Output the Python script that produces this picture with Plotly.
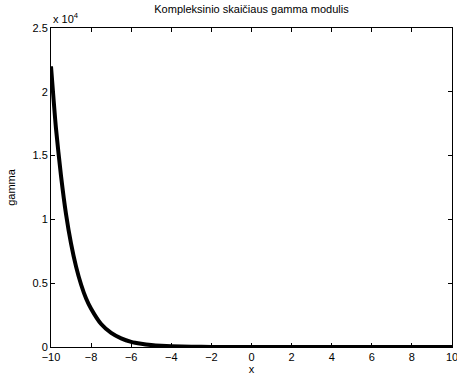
import plotly.graph_objects as go

# modulus values sampled along x
x_vals = [-10, -9.75, -9.5, -9.25, -9, -8.75, -8.5, -8.25, -8, -7.5, -7, -6.5, -6,
          -5.5, -5, -4.5, -4, -3, -2, -1, 0, 2, 4, 6, 8, 10]
gamma_vals = [22000, 17100, 13400, 10400, 8100, 6300, 4900, 3800, 3000, 1800, 1100,
              670, 400, 250, 150, 90, 55, 20, 7, 3, 1, 0.1, 0.02, 0, 0, 0]

y_tickvals = [0, 5000, 10000, 15000, 20000, 25000]
y_ticktext = ["0", "0.5", "1", "1.5", "2", "2.5"]
x_tickvals = [-10, -8, -6, -4, -2, 0, 2, 4, 6, 8, 10]

font = dict(family="Liberation Sans, Arial, sans-serif", size=11, color="black")

fig = go.Figure(go.Scatter(
    x=x_vals, y=gamma_vals, mode="lines",
    line=dict(color="black", width=4, shape="spline", smoothing=0.6),
    hoverinfo="skip",
))

axis_common = dict(
    showline=True, linecolor="black", linewidth=1, mirror="ticks",
    ticks="inside", ticklen=4, tickcolor="black", showgrid=False,
    zeroline=False, tickfont=font, ticklabeloverflow="allow", automargin=False,
)

fig.update_layout(
    width=457, height=378,
    margin=dict(l=51, r=5, t=28, b=31),
    paper_bgcolor="white", plot_bgcolor="white",
    showlegend=False,
    font=font,
    title=dict(text="Kompleksinio skaičiaus gamma modulis", x=0.5, xanchor="center",
               xref="paper", y=0.985, yanchor="top", font=dict(size=11)),
    xaxis=dict(range=[-10, 10], tickvals=x_tickvals,
               title=dict(text="x", font=font, standoff=2), **axis_common),
    yaxis=dict(range=[0, 25000], tickvals=y_tickvals, ticktext=y_ticktext,
               title=dict(text="gamma", font=font, standoff=14), **axis_common),
    annotations=[dict(text="x 10<sup>4</sup>", xref="paper", yref="paper",
                      x=0, y=1.0, xanchor="left", yanchor="bottom",
                      showarrow=False, font=font, yshift=1)],
)

fig.write_html("out.html")
